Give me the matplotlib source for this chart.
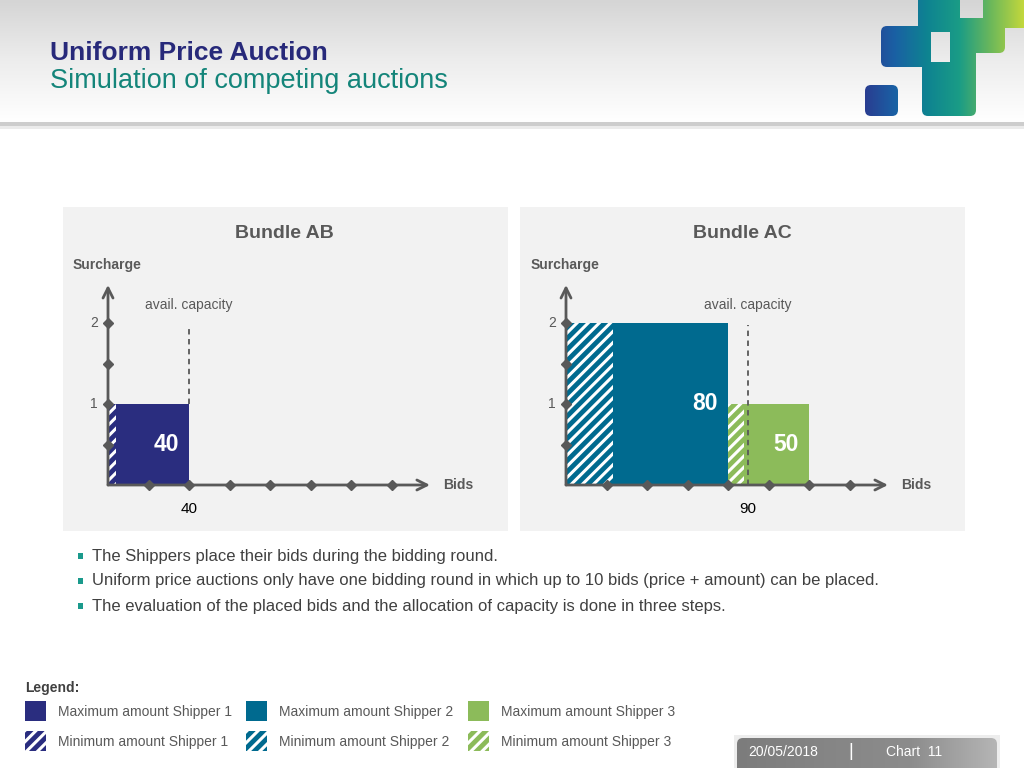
import numpy as np
import matplotlib
matplotlib.use('Agg')
import matplotlib.pyplot as plt
from matplotlib.patches import Rectangle, FancyBboxPatch
from matplotlib.colors import LinearSegmentedColormap

plt.rcParams['font.family'] = ['Liberation Sans', 'DejaVu Sans']
plt.rcParams['hatch.linewidth'] = 2.2

# --- data ---
title = 'Uniform Price Auction'
subtitle = 'Simulation of competing auctions'

bundle_names = ['Bundle AB', 'Bundle AC']
avail_capacity = [40, 90]

shipper_colors = ['#2a2d7f', '#006a8f', '#8cbb5a']

# one entry per bid block
bar_bundle = [0, 1, 1]
bar_shipper = [0, 1, 2]
bar_start = [0, 0, 80]
bar_max_amount = [40, 80, 40]
bar_min_amount = [4, 23, 8]
bar_surcharge = [1, 2, 1]
bar_labels = ['40', '80', '50']

bid_ticks = [20, 40, 60, 80, 100, 120, 140]
surcharge_ticks = [0.5, 1, 1.5, 2]
surcharge_labels = [1, 2]

legend_max = ['Maximum amount Shipper 1', 'Maximum amount Shipper 2', 'Maximum amount Shipper 3']
legend_min = ['Minimum amount Shipper 1', 'Minimum amount Shipper 2', 'Minimum amount Shipper 3']

bullets = [
    'The Shippers place their bids during the bidding round.',
    'Uniform price auctions only have one bidding round in which up to 10 bids (price + amount) can be placed.',
    'The evaluation of the placed bids and the allocation of capacity is done in three steps.',
]

footer_date = '20/05/2018'
footer_chart = 'Chart  11'

grey = '#595959'
text_grey = '#404040'

W, H = 1024, 768
fig = plt.figure(figsize=(W / 100, H / 100), dpi=100)
fig.patch.set_facecolor('white')

# background axes in pixel coordinates (y down)
bg = fig.add_axes([0, 0, 1, 1])
bg.axis('off')

# header gradient + separator
hdr_cmap = LinearSegmentedColormap.from_list('hdr', ['#d5d5d5', '#ededed', '#ffffff'])
bg.imshow(np.linspace(0, 1, 200).reshape(-1, 1), cmap=hdr_cmap,
          extent=(0, W, 122, 0), aspect='auto', zorder=0)
bg.add_patch(Rectangle((0, 122), W, 4, color='#cdcdcd', lw=0, zorder=1))
bg.add_patch(Rectangle((0, 126), W, 3, color='#ebebeb', lw=0, zorder=1))

# logo
logo_cmap = LinearSegmentedColormap.from_list(
    'logo', ['#2b3a8f', '#1a60a4', '#0e8391', '#1a9c86', '#6db85a', '#c3d83c'])
logo_blocks = [(865, 85, 898, 116), (881, 26, 931, 67), (918, -10, 960, 32),
               (950, 18, 1005, 53), (983, -10, 1030, 28), (950, 18, 976, 72),
               (922, 62, 976, 116)]
for (x0, y0, x1, y1) in logo_blocks:
    p = FancyBboxPatch((x0, y0), x1 - x0, y1 - y0,
                       boxstyle='round,pad=0,rounding_size=6', fc='none', ec='none')
    bg.add_patch(p)
    im = bg.imshow(np.linspace(0, 1, 256).reshape(1, -1), cmap=logo_cmap,
                   extent=(862, 1024, 120, -10), aspect='auto', zorder=2)
    im.set_clip_path(p)

bg.text(50, 60, title, fontsize=19, fontweight='bold', color='#27297a', va='baseline')
bg.text(50, 88, subtitle, fontsize=19.5, color='#14857a', va='baseline')

# bullets
for k, line in enumerate(bullets):
    y = 556 + 25 * k
    bg.add_patch(Rectangle((78, y - 3), 5, 6, color='#1a9a8c', lw=0))
    bg.text(92, y, line, fontsize=12, color=text_grey, va='center')

# legend
bg.text(25, 688, 'Legend:', fontsize=10, fontweight='bold', color=text_grey, va='center')
legend_x = [25, 246, 468]
for k in range(3):
    bg.add_patch(Rectangle((legend_x[k], 701), 21, 20, fc=shipper_colors[k], lw=0))
    bg.add_patch(Rectangle((legend_x[k], 731), 21, 20, fc=shipper_colors[k],
                           ec='white', hatch='///', lw=0))
    bg.text(legend_x[k] + 33, 712, legend_max[k], fontsize=10, color=grey, va='center')
    bg.text(legend_x[k] + 33, 742, legend_min[k], fontsize=10, color=grey, va='center')

# footer box
bg.add_patch(Rectangle((734, 735), 266, 34, color='#ededed', lw=0, zorder=1))
foot = FancyBboxPatch((737, 738), 260, 40, boxstyle='round,pad=0,rounding_size=6',
                      fc='none', ec='none')
bg.add_patch(foot)
foot_cmap = LinearSegmentedColormap.from_list('foot', ['#7c7c7c', '#858585', '#8c8c8c', '#b5b5b5'])
im = bg.imshow(np.linspace(0, 1, 256).reshape(1, -1), cmap=foot_cmap,
               extent=(737, 997, 768, 738), aspect='auto', zorder=2)
im.set_clip_path(foot)
bg.text(748, 752, footer_date, fontsize=10, color='white', va='center', zorder=3)
bg.text(851, 751, '|', fontsize=13, color='white', va='center', ha='center', zorder=3)
bg.text(886, 752, footer_chart, fontsize=10, color='white', va='center', zorder=3)

bg.set_xlim(0, W)
bg.set_ylim(H, 0)

# --- the two bundle charts ---
sx = 81 / 40   # pixels per bid unit
sy = 81        # pixels per surcharge unit
panels = [(63, 207, 508, 531), (520, 207, 965, 531)]
origins = [(108, 485), (566, 485)]

for i, name in enumerate(bundle_names):
    px0, py0, px1, py1 = panels[i]
    ox, oy = origins[i]
    ax = fig.add_axes([px0 / W, 1 - py1 / H, (px1 - px0) / W, (py1 - py0) / H])
    ax.set_facecolor('#f2f2f2')
    ax.set_xlim((px0 - ox) / sx, (px1 - ox) / sx)
    ax.set_ylim((oy - py1) / sy, (oy - py0) / sy)
    for s in ax.spines.values():
        s.set_visible(False)
    ax.set_xticks([])
    ax.set_yticks([])

    cap = avail_capacity[i]
    dash_bottom = 0
    for j in range(len(bar_bundle)):
        if bar_bundle[j] != i:
            continue
        c = shipper_colors[bar_shipper[j]]
        ax.bar(bar_start[j], bar_surcharge[j], width=bar_max_amount[j], align='edge',
               color=c, lw=0, zorder=2)
        ax.bar(bar_start[j], bar_surcharge[j], width=bar_min_amount[j], align='edge',
               facecolor=c, edgecolor='white', hatch='///', lw=0, zorder=3)
        ax.text(bar_start[j] + bar_max_amount[j] - 5, bar_surcharge[j] / 2, bar_labels[j],
                color='white', fontsize=16.5, fontweight='bold', ha='right', va='center', zorder=6)
        if bar_start[j] + bar_max_amount[j] == cap:
            dash_bottom = max(dash_bottom, bar_surcharge[j])

    # axes with arrow heads
    arrow = dict(arrowstyle='->', color=grey, lw=2, mutation_scale=18, shrinkA=0, shrinkB=0)
    ax.annotate('', xy=(159, 0), xytext=(0, 0), arrowprops=arrow, zorder=4)
    ax.annotate('', xy=(0, 2.47), xytext=(0, 0), arrowprops=arrow, zorder=4)

    ax.plot(bid_ticks, np.zeros(len(bid_ticks)), 'D', color=grey, ms=5.5, zorder=5, clip_on=False)
    ax.plot(np.zeros(len(surcharge_ticks)), surcharge_ticks, 'D', color=grey, ms=5.5,
            zorder=5, clip_on=False)
    for v in surcharge_labels:
        ax.text(-5, v, str(v), ha='right', va='center', fontsize=10, color=grey)

    ax.plot([cap, cap], [dash_bottom, 1.97], ls=(0, (3, 2.5)), color=grey, lw=1.3, zorder=4)
    ax.text(cap, 2.22, 'avail. capacity', ha='center', va='center', fontsize=10, color=grey)
    ax.text(cap, -0.30, str(cap), ha='center', va='center', fontsize=11, color='black')

    ax.text(87, 3.10, name, ha='center', va='center', fontsize=14, fontweight='bold', color=grey)
    ax.text(-17.3, 2.72, 'Surcharge', ha='left', va='center', fontsize=10, fontweight='bold', color=grey)
    ax.text(165.5, 0, 'Bids', ha='left', va='center', fontsize=10, fontweight='bold', color=grey)

fig.savefig('out.png', dpi=100)
